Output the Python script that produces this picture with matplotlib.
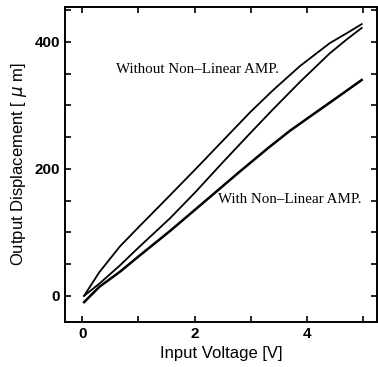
import matplotlib
matplotlib.use("Agg")
import matplotlib.pyplot as plt
from matplotlib.ticker import MultipleLocator

# Without non-linear amp: hysteresis loop (upper branch, lower branch)
v_up = [0.03, 0.3, 0.67, 1.0, 1.38, 2.0, 2.63, 3.0, 3.4, 3.88, 4.41, 4.7, 4.98]
d_up = [0, 37, 78, 108, 142, 198, 256, 290, 324, 362, 398, 413, 428]
v_down = [4.98, 4.7, 4.41, 3.88, 3.4, 3.0, 2.5, 2.0, 1.56, 1.0, 0.67, 0.3, 0.03]
d_down = [422, 403, 382, 337, 294, 257, 210, 162, 122, 76, 48, 19, 0]

# With non-linear amp
v_lin = [0.03, 0.3, 0.67, 1.0, 1.56, 2.0, 2.81, 3.3, 3.7, 4.1, 4.47, 4.98]
d_lin = [-10, 14, 38, 62, 102, 135, 196, 232, 260, 285, 308, 340]

fig = plt.figure(figsize=(3.78, 3.67), dpi=100)
ax = fig.add_axes([0.172, 0.123, 0.825, 0.858])

ax.plot(v_up, d_up, color="black", lw=1.3)
ax.plot(v_down, d_down, color="black", lw=1.3)
ax.plot(v_lin, d_lin, color="black", lw=1.8)

ax.text(0.6, 356, "Without Non–Linear AMP.", family="Liberation Serif",
        fontsize=10.8, va="center")
ax.text(2.42, 152, "With Non–Linear AMP.", family="Liberation Serif",
        fontsize=10.8, va="center")

ax.set_xlim(-0.31, 5.25)
ax.set_ylim(-41, 455)
ax.xaxis.set_major_locator(MultipleLocator(2))
ax.xaxis.set_minor_locator(MultipleLocator(1))
ax.yaxis.set_major_locator(MultipleLocator(200))
ax.yaxis.set_minor_locator(MultipleLocator(50))
ax.tick_params(which="both", direction="in", top=True, right=True,
               length=4, width=1.2, labelsize=11)
for lab in ax.get_xticklabels() + ax.get_yticklabels():
    lab.set_family("Liberation Sans")
    lab.set_weight("bold")
for s in ax.spines.values():
    s.set_linewidth(1.4)

ax.set_xlabel("Input Voltage [V]", family="Liberation Sans", fontsize=12)
ax.set_ylabel("Output Displacement [ $\\mu$ m]", family="Liberation Sans",
              fontsize=12, labelpad=4)

fig.savefig("out.png", dpi=100)
